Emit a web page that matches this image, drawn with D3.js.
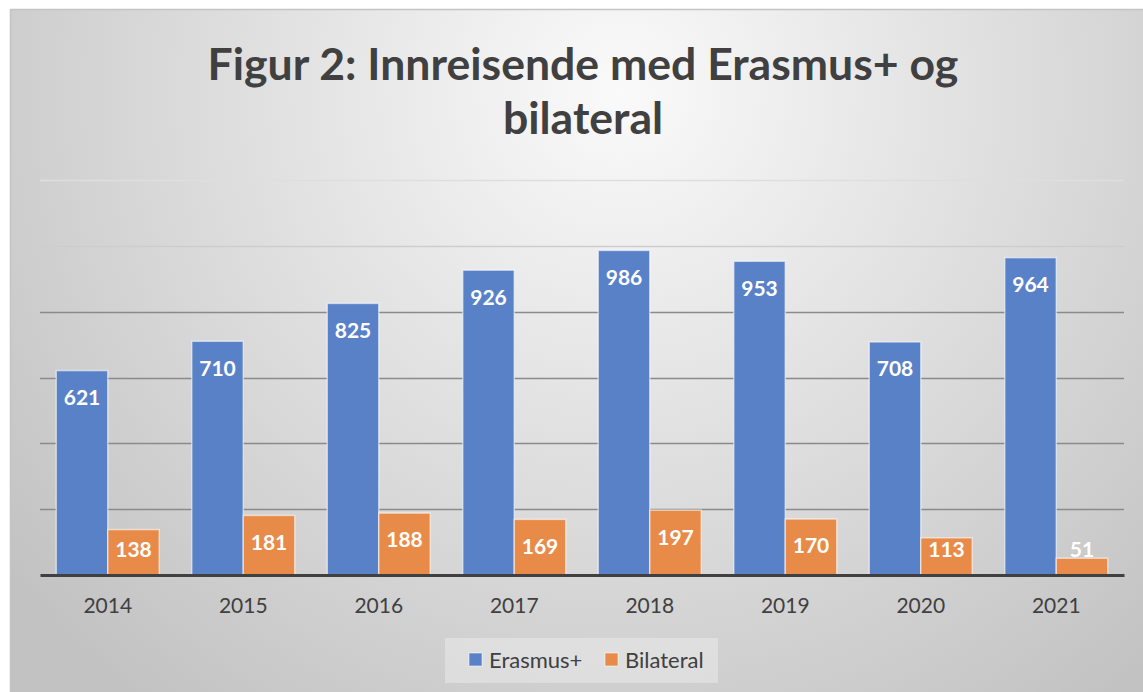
<!DOCTYPE html>
<html>
<head>
<meta charset="utf-8">
<script src="https://cdn.jsdelivr.net/npm/d3@7"></script>
<style>
  html, body { margin: 0; padding: 0; background: #fff; }
  svg { display: block; }
  text { font-family: Lato, "Open Sans", sans-serif; }
</style>
</head>
<body>
<svg id="chart" width="1143" height="692"></svg>
<script>
// data
const years = ['2014', '2015', '2016', '2017', '2018', '2019', '2020', '2021'];
const erasmus = [621, 710, 825, 926, 986, 953, 708, 964];
const bilateral = [138, 181, 188, 169, 197, 170, 113, 51];
const seriesNames = ['Erasmus+', 'Bilateral'];
const seriesColors = ['#5981c8', '#e98b48'];
const yTicks = [0, 200, 400, 600, 800, 1000, 1200];
const titleLines = ['Figur 2: Innreisende med Erasmus+ og', 'bilateral'];

const W = 1143, H = 692;
const svg = d3.select('#chart');

// background with radial gradient
const defs = svg.append('defs');
const grad = defs.append('radialGradient')
  .attr('id', 'bg')
  .attr('gradientUnits', 'userSpaceOnUse')
  .attr('cx', 620).attr('cy', 90).attr('r', 780);
grad.append('stop').attr('offset', '0%').attr('stop-color', '#fafafa');
grad.append('stop').attr('offset', '100%').attr('stop-color', '#c2c2c2');

svg.append('rect')
  .attr('x', 10).attr('y', 9)
  .attr('width', W - 10).attr('height', H - 9)
  .attr('fill', 'url(#bg)');
svg.append('path')
  .attr('d', `M10.5,${H} L10.5,9.5 L${W},9.5`)
  .attr('fill', 'none')
  .attr('stroke', '#c4c4c4')
  .attr('stroke-width', 1.5);

// title
const title = svg.append('g');
titleLines.forEach((t, i) => {
  title.append('text')
    .attr('x', 583)
    .attr('y', 80 + i * 54)
    .attr('text-anchor', 'middle')
    .attr('font-weight', 'bold')
    .attr('font-size', 44)
    .attr('fill', '#404040')
    .text(t);
});
// fit the first line to the width seen in the reference
const first = title.select('text').node();
const w0 = first.getComputedTextLength();
const fs = 44 * 751 / w0;
title.selectAll('text').attr('font-size', fs);

// scales
const x0 = d3.scaleBand()
  .domain(years)
  .range([40, 1124])
  .paddingInner(0.24)
  .paddingOuter(0.12);
const x1 = d3.scaleBand()
  .domain(seriesNames)
  .range([0, x0.bandwidth()]);
const y = d3.scaleLinear()
  .domain([0, 1200])
  .range([575, 180]);

// gridlines
const gridColor = v => (v === 1200 ? '#dedede' : v === 1000 ? '#cdcdcd' : '#8a8a8a');
svg.append('g')
  .selectAll('line')
  .data(yTicks.filter(v => v > 0))
  .enter()
  .append('line')
  .attr('x1', 40)
  .attr('x2', 1124)
  .attr('y1', d => Math.round(y(d)) + 0.5)
  .attr('y2', d => Math.round(y(d)) + 0.5)
  .attr('stroke', gridColor)
  .attr('stroke-width', 1.5);

// bars
const rows = years.map((yr, i) => ({ year: yr, values: [erasmus[i], bilateral[i]] }));
const groups = svg.append('g')
  .selectAll('g')
  .data(rows)
  .enter()
  .append('g')
  .attr('transform', d => `translate(${x0(d.year)},0)`);

const cells = groups.selectAll('g')
  .data(d => d.values.map((v, k) => ({ key: seriesNames[k], k, v })))
  .enter()
  .append('g');

cells.append('rect')
  .attr('x', d => x1(d.key))
  .attr('y', d => y(d.v))
  .attr('width', x1.bandwidth())
  .attr('height', d => y(0) - y(d.v))
  .attr('fill', d => seriesColors[d.k])
  .attr('stroke', 'rgba(255,255,255,0.55)')
  .attr('stroke-width', 1.5);

cells.append('text')
  .attr('x', d => x1(d.key) + x1.bandwidth() / 2)
  .attr('y', d => Math.min(y(d.v) + 27, 550))
  .attr('dy', '0.35em')
  .attr('text-anchor', 'middle')
  .attr('font-weight', 'bold')
  .attr('font-size', 21)
  .attr('fill', '#ffffff')
  .text(d => d.v);

// x axis
const xAxis = svg.append('g')
  .attr('transform', `translate(0,${y(0)})`)
  .call(d3.axisBottom(x0).tickSize(0).tickPadding(23));
xAxis.select('.domain')
  .attr('stroke', '#404040')
  .attr('stroke-width', 3);
xAxis.selectAll('text')
  .attr('font-family', 'Lato, "Open Sans", sans-serif')
  .attr('font-size', 21)
  .attr('fill', '#404040');

// legend
const legend = svg.append('g');
legend.append('rect')
  .attr('x', 445).attr('y', 638)
  .attr('width', 273).attr('height', 45)
  .attr('fill', 'rgba(255,255,255,0.3)');
const legX = [469, 605];
seriesNames.forEach((name, k) => {
  legend.append('rect')
    .attr('x', legX[k]).attr('y', 653)
    .attr('width', 13).attr('height', 13)
    .attr('fill', seriesColors[k])
    .attr('stroke', 'rgba(255,255,255,0.55)');
  legend.append('text')
    .attr('x', legX[k] + 20)
    .attr('y', 660)
    .attr('dy', '0.35em')
    .attr('font-size', 22)
    .attr('fill', '#404040')
    .text(name);
});
</script>
</body>
</html>
